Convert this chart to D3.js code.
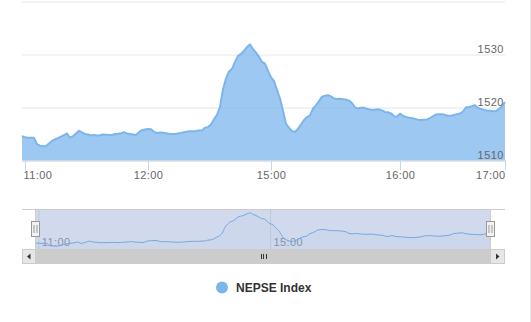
<!DOCTYPE html>
<html>
<head>
<meta charset="utf-8">
<script src="https://cdn.jsdelivr.net/npm/d3@7"></script>
<style>
  body { margin: 0; background: #fff; }
  svg { display: block; font-family: "Liberation Sans", Arial, sans-serif; }
</style>
</head>
<body>
<svg width="531" height="322"></svg>
<script>
// NEPSE index, intraday (ordinal x: one entry per sample)
var values = [
  1514.6, 1514.4, 1514.3, 1514.3, 1514.3, 1513.1, 1512.8, 1512.7, 1512.75, 1513.2,
  1513.7, 1514.0, 1514.2, 1514.5, 1514.8, 1515.1, 1514.3, 1514.6, 1515.1, 1515.6,
  1515.3, 1515.0, 1514.9, 1514.7, 1514.8, 1514.7, 1514.75, 1514.9, 1514.85, 1514.8,
  1514.8, 1515.0, 1515.05, 1515.15, 1515.35, 1515.1, 1515.0, 1514.9, 1514.8, 1515.35,
  1515.75, 1515.85, 1515.95, 1515.9, 1515.4, 1515.2, 1515.3, 1515.25, 1515.15, 1515.05,
  1515.0, 1515.0, 1515.1, 1515.2, 1515.35, 1515.45, 1515.5, 1515.5, 1515.55, 1515.65,
  1515.65, 1516.2, 1516.3, 1516.8, 1517.8, 1518.6, 1520.1, 1523.45, 1525.45, 1526.8,
  1527.3, 1528.6, 1529.75, 1530.1, 1530.7, 1531.4, 1531.9, 1531.0, 1530.35, 1529.55,
  1528.6, 1528.3, 1526.9, 1525.7, 1525.0, 1523.3, 1521.7, 1519.4, 1516.9, 1516.2,
  1515.55, 1515.4, 1516.0, 1516.8, 1517.65, 1518.2, 1518.5, 1519.8, 1520.4, 1521.2,
  1522.05, 1522.2, 1522.3, 1522.1, 1521.7, 1521.6, 1521.65, 1521.55, 1521.45, 1521.3,
  1520.85, 1520.0, 1519.8, 1519.95, 1519.95, 1519.75, 1519.6, 1519.55, 1519.6, 1519.65,
  1519.45, 1519.15, 1519.1, 1518.9, 1518.35, 1518.3, 1518.85, 1518.4, 1518.2, 1518.05,
  1518.0, 1517.85, 1517.7, 1517.65, 1517.7, 1517.75, 1518.0, 1518.35, 1518.7, 1518.75,
  1518.75, 1518.6, 1518.45, 1518.45, 1518.6, 1518.75, 1518.85, 1519.25, 1520.05, 1520.1,
  1520.25, 1520.45, 1519.9, 1519.7, 1519.55, 1519.45, 1519.4, 1519.3, 1519.35, 1519.75,
  1520.25, 1521.0
];
var tickIdx = [1, 42, 83, 126, 161];
var tickLabels = ["11:00", "12:00", "15:00", "16:00", "17:00"];
var navTickIdx = [1, 83];
var navTickLabels = ["11:00", "15:00"];
var yTicks = [1510, 1520, 1530, 1540];
var yLabels = ["1510", "1520", "1530", ""];
var seriesName = "NEPSE Index";

var blue = "#7cb5ec";
var labelFont = "'Liberation Sans', Arial, sans-serif";
var svg = d3.select("svg");

var plotL = 22, plotR = 505, plotT = 1.5, plotB = 160.5;
var x = d3.scaleLinear().domain([0, values.length - 1]).range([plotL, plotR]);
var y = d3.scaleLinear().domain([1510, 1540]).range([plotB, plotT]);

// right border of the container
svg.append("line")
   .attr("x1", 530.5).attr("x2", 530.5).attr("y1", 0).attr("y2", 322)
   .attr("stroke", "#e6e6e6");

// horizontal grid
var grid = svg.append("g").attr("transform", "translate(" + plotR + ",0)")
   .call(d3.axisLeft(y).tickValues(yTicks).tickSize(plotR - plotL).tickFormat(""));
grid.select(".domain").remove();
grid.selectAll("line").attr("stroke", "#e6e6e6");

// area series
svg.append("path")
   .datum(values)
   .attr("fill", blue).attr("fill-opacity", 0.75)
   .attr("d", d3.area().x(function(d, i) { return x(i); }).y0(plotB).y1(function(d) { return y(d); }));
svg.append("path")
   .datum(values)
   .attr("fill", "none").attr("stroke", blue).attr("stroke-width", 2)
   .attr("stroke-linejoin", "round")
   .attr("d", d3.line().x(function(d, i) { return x(i); }).y(function(d) { return y(d); }));

// y labels inside the plot, right side
var yAx = svg.append("g").attr("transform", "translate(" + (plotR - 1) + ",0)")
   .call(d3.axisLeft(y).tickValues(yTicks).tickSize(0).tickPadding(0)
   .tickFormat(function(d, i) { return yLabels[i]; }));
yAx.select(".domain").remove();
yAx.selectAll("text")
   .attr("dy", null).attr("y", -2)
   .attr("fill", "#666").attr("font-size", "11px")
   .style("letter-spacing", "0.5px")
   .style("font-family", labelFont);

// x axis
var xAx = svg.append("g").attr("transform", "translate(0," + plotB + ")")
   .call(d3.axisBottom(x).tickValues(tickIdx).tickSizeInner(10).tickSizeOuter(0)
   .tickFormat(function(d, i) { return tickLabels[i]; }));
xAx.select(".domain").attr("stroke", "#ccd6eb");
xAx.selectAll("line").attr("stroke", "#ccd6eb");
xAx.selectAll("text")
   .attr("dy", null).attr("y", 18.2)
   .attr("fill", "#666").attr("font-size", "11px")
   .style("letter-spacing", "0.4px")
   .style("font-family", labelFont)
   .attr("text-anchor", function(d, i) { return i === 0 ? "start" : (i === tickIdx.length - 1 ? "end" : "middle"); })
   .attr("dx", function(d, i) { return i === 0 ? -2 : 0; });

// ---------- navigator ----------
var navTop = 209.5, navBottom = 249.5, navL = 35.5, navR = 490.5;
var vmin = d3.min(values), vmax = d3.max(values), pad = (vmax - vmin) * 0.1;
var nx = d3.scaleLinear().domain([0, values.length - 1]).range([navL, navR]);
var ny = d3.scaleLinear().domain([vmin - pad, vmax + pad]).range([navBottom, navTop]);

var navGrid = svg.append("g").attr("transform", "translate(0," + navBottom + ")")
   .call(d3.axisBottom(nx).tickValues(navTickIdx).tickSize(-(navBottom - navTop)).tickPadding(0)
   .tickFormat(function(d, i) { return navTickLabels[i]; }));
navGrid.select(".domain").remove();
navGrid.selectAll("line").attr("stroke", "#e6e6e6");
navGrid.selectAll("text")
   .attr("dy", null).attr("y", -4).attr("x", 3)
   .attr("text-anchor", "start")
   .attr("fill", "#999").attr("font-size", "11px")
   .style("letter-spacing", "0.4px")
   .style("font-family", labelFont);

var navCurve = d3.curveMonotoneX;
svg.append("path")
   .datum(values)
   .attr("fill", blue).attr("fill-opacity", 0.05)
   .attr("d", d3.area().curve(navCurve).x(function(d, i) { return nx(i); }).y0(navBottom).y1(function(d) { return ny(d); }));
svg.append("path")
   .datum(values)
   .attr("fill", "none").attr("stroke", blue).attr("stroke-width", 1)
   .attr("d", d3.line().curve(navCurve).x(function(d, i) { return nx(i); }).y(function(d) { return ny(d); }));

// selected range mask
svg.append("rect")
   .attr("x", navL).attr("y", navTop).attr("width", navR - navL).attr("height", navBottom - navTop)
   .attr("fill", "rgba(102,133,194,0.3)");

// outline
svg.append("path")
   .attr("d", "M" + plotL + "," + navTop + "H" + plotR +
              "M" + navL + "," + navTop + "V" + navBottom +
              "M" + navR + "," + navTop + "V" + navBottom)
   .attr("fill", "none").attr("stroke", "#cccccc");

// handles
[navL, navR].forEach(function(cx) {
  var h = svg.append("g");
  h.append("rect")
   .attr("x", cx - 4).attr("y", 221.5).attr("width", 8).attr("height", 15)
   .attr("fill", "#f2f2f2").attr("stroke", "#999999");
  h.append("path")
   .attr("d", "M" + (cx - 1.5) + ",225V233M" + (cx + 1.5) + ",225V233")
   .attr("stroke", "#999999");
});

// scrollbar
var sTop = 249.5, sH = 14;
svg.append("rect").attr("x", plotL + 0.5).attr("y", sTop).attr("width", plotR - plotL - 1).attr("height", sH)
   .attr("fill", "#f2f2f2").attr("stroke", "#f2f2f2");
svg.append("rect").attr("x", navL).attr("y", sTop).attr("width", navR - navL).attr("height", sH)
   .attr("fill", "#cccccc").attr("stroke", "#cccccc");
svg.append("rect").attr("x", plotL + 0.5).attr("y", sTop).attr("width", navL - plotL - 0.5).attr("height", sH)
   .attr("fill", "#e6e6e6").attr("stroke", "#cccccc");
svg.append("rect").attr("x", navR).attr("y", sTop).attr("width", plotR - navR - 0.5).attr("height", sH)
   .attr("fill", "#e6e6e6").attr("stroke", "#cccccc");
var sMid = sTop + sH / 2;
svg.append("path")
   .attr("d", "M27," + sMid + "L30.5," + (sMid - 3) + "V" + (sMid + 3) + "Z")
   .attr("fill", "#333");
svg.append("path")
   .attr("d", "M499.5," + sMid + "L496," + (sMid - 3) + "V" + (sMid + 3) + "Z")
   .attr("fill", "#333");
var gx = (navL + navR) / 2;
svg.append("path")
   .attr("d", [-2.5, 0, 2.5].map(function(o) {
       return "M" + (Math.round(gx + o) + 0.5) + "," + (sMid - 2.5) + "V" + (sMid + 2.5);
   }).join(""))
   .attr("stroke", "#333");

// legend
var leg = svg.append("g").attr("transform", "translate(222,287.5)");
leg.append("circle").attr("r", 6).attr("fill", blue);
leg.append("text").attr("x", 14).attr("y", 4.5)
   .attr("font-size", "12px").attr("font-weight", "bold").attr("fill", "#333")
   .text(seriesName);
</script>
</body>
</html>
